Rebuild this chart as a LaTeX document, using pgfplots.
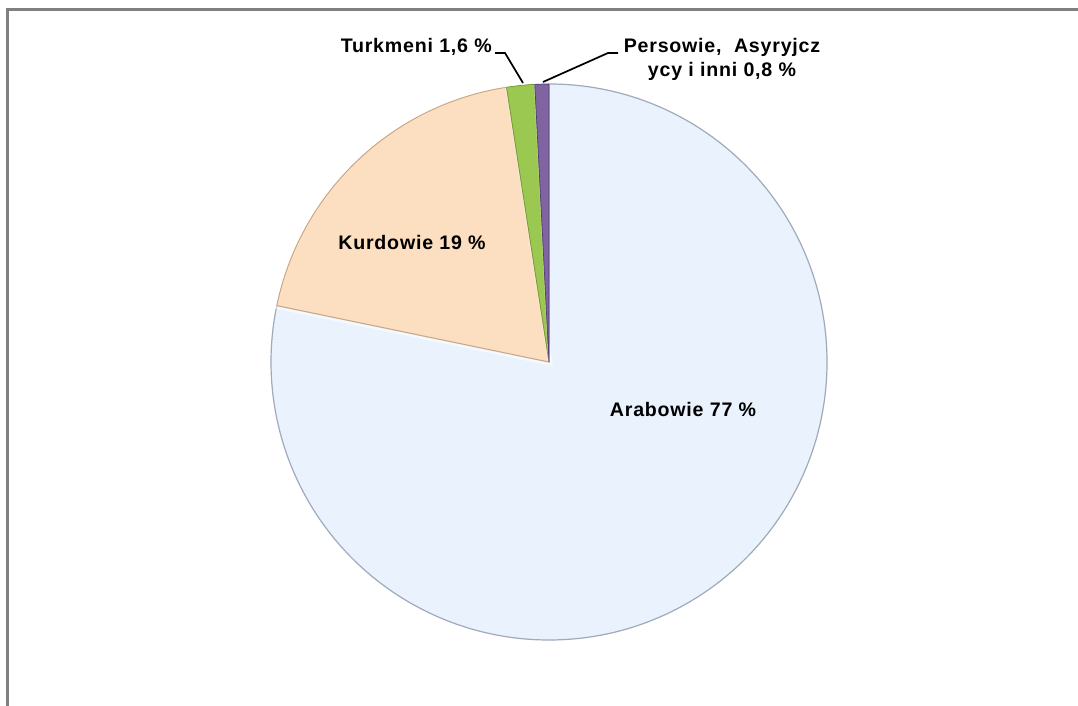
\documentclass[border=0pt]{standalone}
\usepackage{fontspec}
\setmainfont{Liberation Sans}[LetterSpace=4]
\usepackage{pgfplots}
\pgfplotsset{compat=1.18}
\definecolor{arab}{RGB}{234,243,253}
\definecolor{arabedge}{RGB}{160,170,185}
\definecolor{kurd}{RGB}{252,222,192}
\definecolor{kurdedge}{RGB}{200,165,130}
\definecolor{turk}{RGB}{155,200,80}
\definecolor{turkedge}{RGB}{110,150,50}
\definecolor{pers}{RGB}{128,100,162}
\definecolor{persedge}{RGB}{80,60,110}
\definecolor{frame}{RGB}{128,128,128}
\begin{document}
\begin{tikzpicture}[x=0.75pt,y=0.75pt]
\useasboundingbox (0,0) rectangle (1078,706);
\draw[frame,line width=2pt] (7.5,0) -- (7.5,696.7) -- (1078,696.7);
% shares (%)
\pgfmathsetmacro\vA{77}
\pgfmathsetmacro\vB{19}
\pgfmathsetmacro\vC{1.6}
\pgfmathsetmacro\vD{0.8}
\pgfmathsetmacro\tot{\vA+\vB+\vC+\vD}
\pgfmathsetmacro\aA{90}
\pgfmathsetmacro\aB{\aA-360*(\vA/\tot)}
\pgfmathsetmacro\aC{\aB-360*(\vB/\tot)}
\pgfmathsetmacro\aD{\aC-360*(\vC/\tot)}
\pgfmathsetmacro\aE{\aD-360*(\vD/\tot)}
\begin{axis}[at={(411.75pt,258pt)},anchor=center,
  width=417pt,height=417pt,scale only axis,
  xmin=-1,xmax=1,ymin=-1,ymax=1,hide axis,clip=false]
\addplot[data cs=polar,fill=arab,draw=none,
  postaction={draw=white,line width=5pt,opacity=0.6},
  postaction={draw=arabedge,line width=0.9pt}]
  coordinates {(\aA,0) (\aA,1)} arc[start angle=\aA,end angle=\aB,radius=208.5pt] -- cycle;
\addplot[data cs=polar,fill=kurd,draw=none,
  postaction={draw=white,line width=5pt,opacity=0.5},
  postaction={draw=kurdedge,line width=0.7pt}]
  coordinates {(\aB,0) (\aB,1)} arc[start angle=\aB,end angle=\aC,radius=208.5pt] -- cycle;
\addplot[data cs=polar,fill=turk,draw=none,
  postaction={draw=white,line width=2pt,opacity=0.3},
  postaction={draw=turkedge,line width=0.5pt}]
  coordinates {(\aC,0) (\aC,1)} arc[start angle=\aC,end angle=\aD,radius=208.5pt] -- cycle;
\addplot[data cs=polar,fill=pers,draw=none,
  postaction={draw=white,line width=1.5pt,opacity=0.3},
  postaction={draw=persedge,line width=0.5pt}]
  coordinates {(\aD,0) (\aD,1)} arc[start angle=\aD,end angle=\aE,radius=208.5pt] -- cycle;
\end{axis}
\begin{scope}[every node/.style={font=\fontsize{14.7}{17}\selectfont\bfseries,inner sep=0pt}]
\node at (683,296) {Arabowie 77 \%};
\node at (412,463) {Kurdowie 19 \%};
\node[anchor=base east] at (492,653) {Turkmeni 1,6 \%};
\node[anchor=base] at (722,653) {Persowie,~~Asyryjcz};
\node[anchor=base] at (722,629) {ycy i inni 0,8 \%};
\end{scope}
\draw[line width=1.3pt] (495,653) -- (505,653) -- (523,623);
\draw[line width=1.3pt] (618,653) -- (608,653) -- (543,624);
\end{tikzpicture}
\end{document}
